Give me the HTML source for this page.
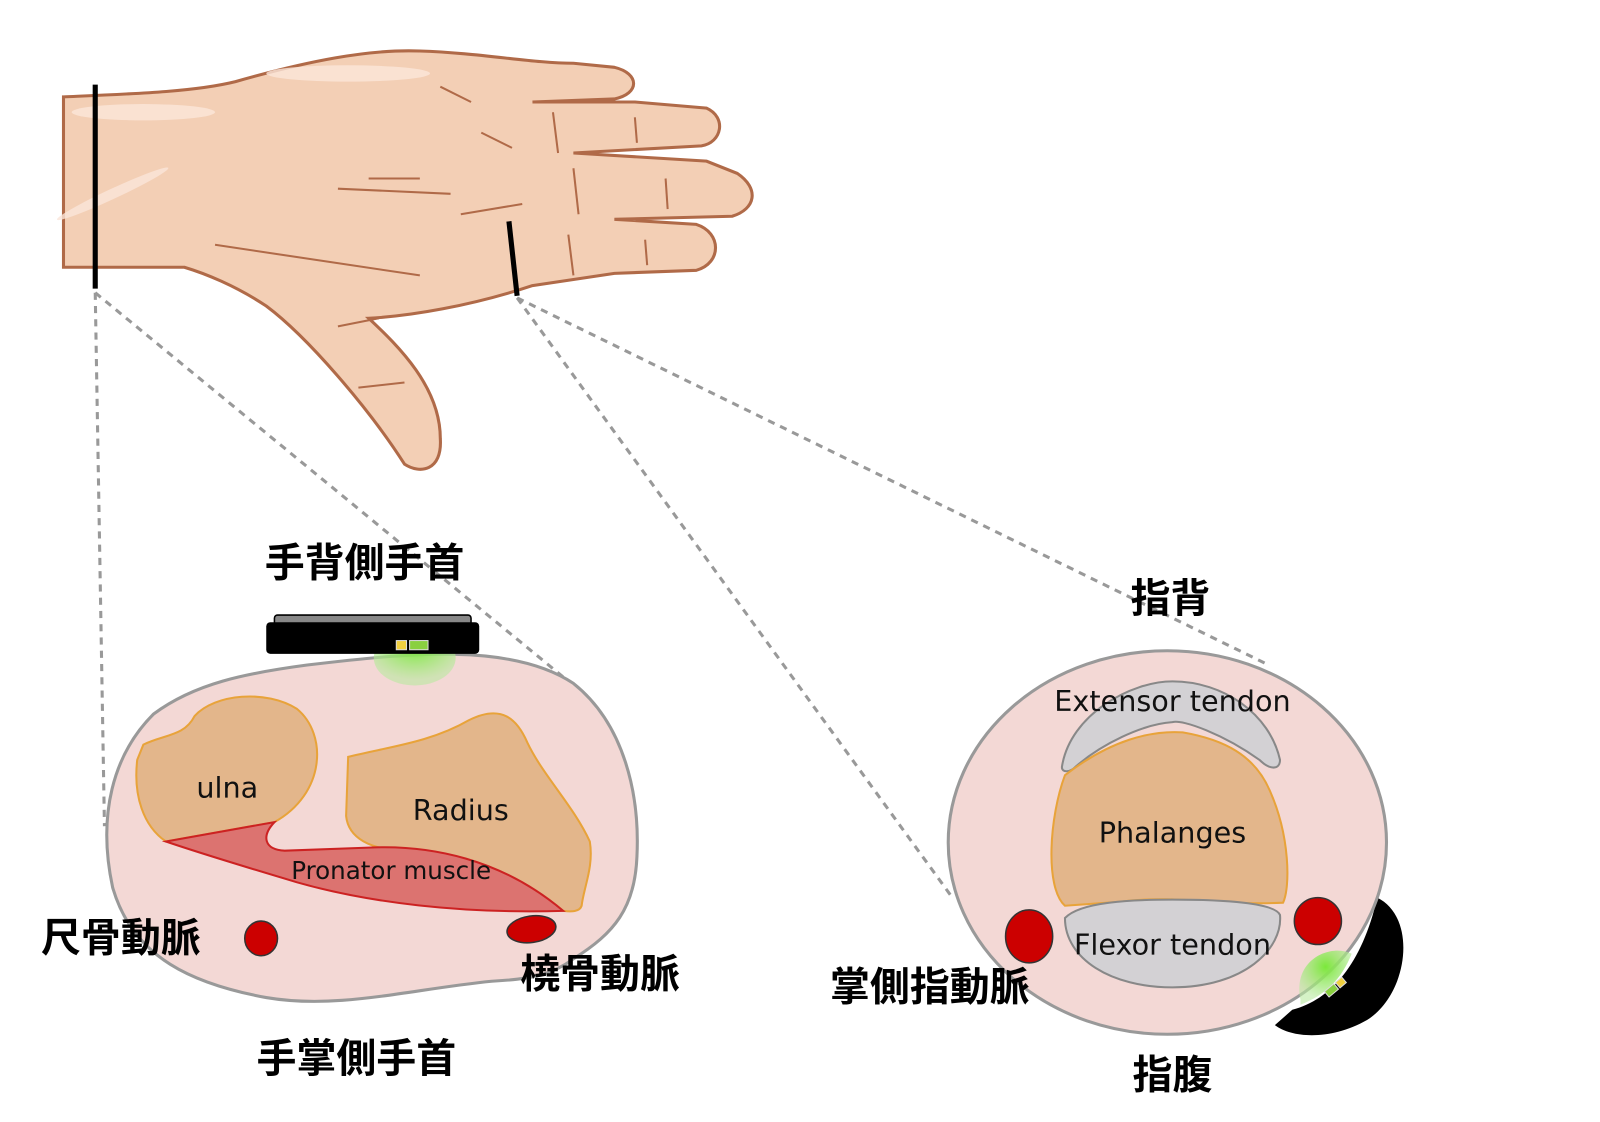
<!DOCTYPE html>
<html><head><meta charset="utf-8">
<style>
html,body{margin:0;padding:0;background:#fff;}
svg{display:block;}
.jp{font-family:"Liberation Sans","Noto Sans CJK JP",sans-serif;font-weight:bold;font-size:39px;fill:#000;}
.en{font-family:"DejaVu Sans","Liberation Sans",sans-serif;fill:#111;}
</style></head><body>
<svg width="1600" height="1122" viewBox="0 0 1600 1122" xmlns="http://www.w3.org/2000/svg">
<defs>
<radialGradient id="g1" cx="50%" cy="30%" r="60%">
<stop offset="0" stop-color="#7be83a"/><stop offset="1" stop-color="#b9e9a0" stop-opacity="0.6"/>
</radialGradient>
</defs>
<g transform="scale(1.024,1.02)">
<!-- hand -->
<path d="M62,95 C130,92 190,90 230,80 C300,60 360,48 410,50 C470,52 520,62 560,62 L600,66 C625,72 625,92 600,97 L520,100 L620,100 L690,106 C710,115 705,140 685,143 L560,150 L690,158 L720,170 C742,185 738,205 715,212 L600,215 L680,220 C705,228 705,258 680,265 L600,268 L520,280 C460,300 400,310 360,312 C390,340 430,380 430,430 C432,462 410,465 395,455 C360,400 300,330 260,300 C230,280 200,268 180,262 L62,262 Z" fill="#f3cfb5" stroke="#b06a48" stroke-width="3"/>
<g stroke="#b06a48" stroke-width="2" fill="none">
<path d="M430,85 L460,100"/><path d="M470,130 L500,145"/><path d="M450,210 L510,200"/>
<path d="M330,185 L440,190"/><path d="M360,175 L410,175"/><path d="M210,240 L410,270"/>
<path d="M540,110 L545,150"/><path d="M560,165 L565,210"/><path d="M555,230 L560,270"/>
<path d="M620,115 L622,140"/><path d="M650,175 L652,205"/><path d="M630,235 L632,260"/>
<path d="M330,320 L370,312"/><path d="M350,380 L395,375"/>
</g>
<g fill="#fbe6da" opacity="0.8">
<ellipse cx="340" cy="72" rx="80" ry="8"/><ellipse cx="140" cy="110" rx="70" ry="8"/>
<ellipse cx="110" cy="190" rx="60" ry="5" transform="rotate(-25 110 190)"/>
</g>
<line x1="93" y1="83" x2="93" y2="283" stroke="#000" stroke-width="5"/>
<line x1="497" y1="217" x2="505" y2="290" stroke="#000" stroke-width="5"/>
<!-- dashed -->
<g stroke="#999" stroke-width="3" stroke-dasharray="7 6" fill="none">
<line x1="93" y1="287" x2="102" y2="810"/>
<line x1="93" y1="287" x2="560" y2="672"/>
<line x1="505" y1="292" x2="930" y2="880"/>
<line x1="505" y1="292" x2="1235" y2="650"/>
</g>
<!-- left cross-section -->
<path d="M300,652 C400,640 500,630 560,670 C610,710 625,780 622,840 C620,890 600,915 560,940 C540,955 520,960 480,962 C400,970 330,990 260,978 C190,965 130,940 110,870 C95,800 110,740 150,700 C190,670 240,660 300,652 Z" fill="#f3d8d5" stroke="#999" stroke-width="3"/>
<ellipse cx="405" cy="645" rx="40" ry="27" fill="url(#g1)"/>
<rect x="268" y="603" width="192" height="10" rx="3" fill="#888" stroke="#000" stroke-width="1.5"/>
<rect x="260" y="610" width="208" height="31" rx="4" fill="#000"/>
<rect x="387" y="628" width="10" height="9" fill="#f0d040" stroke="#ddd"/>
<rect x="400" y="628" width="18" height="9" fill="#8ad040" stroke="#ddd"/>
<path d="M140,730 C160,720 180,722 190,702 C210,680 260,676 290,695 C320,720 318,778 268,806 L162,825 C140,810 130,780 134,745 Z" fill="#e3b68b" stroke="#e8a33a" stroke-width="2"/>
<path d="M340,742 C380,732 420,728 458,706 C490,690 505,705 515,728 C530,760 560,790 576,825 C580,850 570,870 568,888 C566,894 558,894 550,893 C510,860 460,840 400,833 C360,835 340,820 338,800 Z" fill="#e3b68b" stroke="#e8a33a" stroke-width="2"/>
<path d="M162,825 L268,806 C255,820 258,833 278,834 L360,831 C420,828 490,842 550,893 C450,896 360,885 290,865 C240,850 200,838 162,825 Z" fill="#dc7370" stroke="#cc2222" stroke-width="2"/>
<ellipse cx="255" cy="920" rx="16" ry="17" fill="#cc0000" stroke="#333" stroke-width="1.5"/>
<ellipse cx="519" cy="911" rx="24" ry="13" fill="#cc0000" stroke="#333" stroke-width="1.5" transform="rotate(-8 519 911)"/>
<text x="222" y="782" class="en" font-size="28" text-anchor="middle">ulna</text>
<text x="450" y="804" class="en" font-size="28" text-anchor="middle">Radius</text>
<text x="382" y="862" class="en" font-size="24" text-anchor="middle">Pronator muscle</text>
<text x="356" y="565" class="jp" text-anchor="middle">手背側手首</text>
<text x="118" y="933" class="jp" text-anchor="middle">尺骨動脈</text>
<text x="586" y="968" class="jp" text-anchor="middle">橈骨動脈</text>
<text x="348" y="1051" class="jp" text-anchor="middle">手掌側手首</text>
<!-- right cross-section -->
<path d="M1345,880 C1385,900 1375,975 1335,1000 C1300,1020 1262,1018 1245,1005 L1262,990 C1300,980 1330,945 1345,880 Z" fill="#000"/>
<ellipse cx="1140" cy="826" rx="214" ry="188" fill="#f3d8d5" stroke="#999" stroke-width="3"/>
<path d="M1270,980 C1262,940 1300,925 1320,935 C1310,960 1295,975 1270,985 Z" fill="url(#g1)"/>
<path d="M1037,752 C1045,700 1105,668 1145,668 C1195,668 1240,700 1250,745 C1250,755 1240,755 1230,745 C1195,720 1155,705 1145,708 C1115,710 1075,730 1050,752 C1045,757 1037,758 1037,752 Z" fill="#d3d1d4" stroke="#888" stroke-width="2"/>
<path d="M1040,760 C1085,725 1125,716 1155,718 C1195,725 1225,740 1240,775 C1260,820 1260,870 1253,885 C1195,888 1145,877 1095,884 L1040,888 C1020,870 1025,800 1040,760 Z" fill="#e3b68b" stroke="#e8a33a" stroke-width="2"/>
<path d="M1040,900 C1055,884 1105,882 1145,882 C1195,882 1245,885 1250,897 C1253,930 1215,968 1145,968 C1085,968 1040,940 1040,900 Z" fill="#d3d1d4" stroke="#888" stroke-width="2"/>
<ellipse cx="1005" cy="918" rx="23" ry="26" fill="#cc0000" stroke="#333" stroke-width="1.5"/>
<ellipse cx="1287" cy="903" rx="23" ry="23" fill="#cc0000" stroke="#333" stroke-width="1.5"/>
<g transform="rotate(-40 1303 968)">
<rect x="1293" y="965" width="12" height="7" fill="#8ad040" stroke="#ddd"/>
<rect x="1307" y="965" width="8" height="7" fill="#f0d040" stroke="#ddd"/>
</g>
<text x="1145" y="697" class="en" font-size="28" text-anchor="middle">Extensor tendon</text>
<text x="1145" y="826" class="en" font-size="28" text-anchor="middle">Phalanges</text>
<text x="1145" y="936" class="en" font-size="28" text-anchor="middle">Flexor tendon</text>
<text x="1143" y="600" class="jp" text-anchor="middle">指背</text>
<text x="908" y="981" class="jp" text-anchor="middle">掌側指動脈</text>
<text x="1145" y="1067" class="jp" text-anchor="middle">指腹</text>
</g>
</svg>
</body></html>
